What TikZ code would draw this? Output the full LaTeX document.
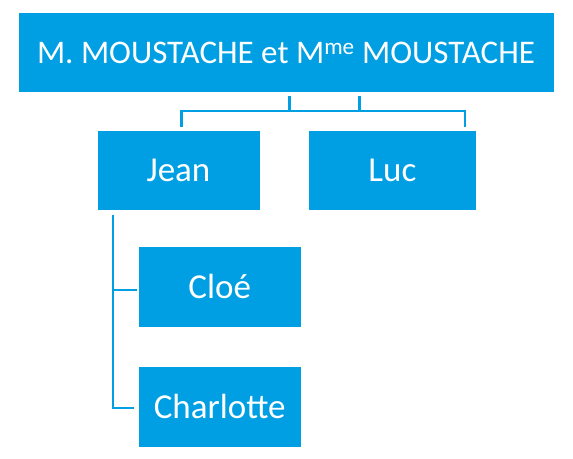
\documentclass[tikz,border=0pt]{standalone}
\usepackage{fontspec}
\setmainfont{Carlito}
\usetikzlibrary{positioning}
\definecolor{moustache}{RGB}{0,159,227}
\tikzset{person/.style={fill=moustache, draw=white, line width=1pt, text=white,
            minimum height=80.6pt, inner sep=0pt, text height=22.5pt, text depth=0pt,
            font=\fontsize{35}{40}\selectfont},
         link/.style={draw=moustache, line width=2.8pt}}

\begin{document}
\begin{tikzpicture}[x=1pt,y=-1pt]
        \useasboundingbox (0,0) rectangle (573,458);

        \node[person, minimum width=536pt, text height=21.2pt, font=\fontsize{33}{38}\selectfont] (couple) at (286,52.5)
            {M. MOUSTACHE et M\textsuperscript{me} MOUSTACHE};
        \node[person, minimum width=163pt] (jean) at (178.5,170.3) {Jean};
        \node[person, minimum width=168pt] (luc) at (392.4,170.3) {Luc};
        \foreach \name/\txt/\y in {cloe/Clo\'e/287, charlotte/Charlotte/407}
        {
            \node[person, minimum width=162.7pt] (\name) at (219.7,\y) {\txt};
        }

        % couple -> sons
        \coordinate (forkA) at (289.5,111);
        \coordinate (forkB) at (359.5,111);
        \draw[link, shorten <=3pt] (couple.south -| forkA) -- (forkA);
        \draw[link, shorten <=3pt] (couple.south -| forkB) -- (forkB);
        \draw[link, shorten <=3pt, shorten >=3pt] ([xshift=3pt]jean.north) |- (forkA) -- (forkB)
            -| ([xshift=72.6pt]luc.north);

        % Jean -> daughters
        \coordinate (trunk) at (113,290);
        \draw[link, shorten <=3.5pt, shorten >=3.5pt] (jean.south -| trunk) |- ([yshift=-1pt]charlotte.west);
        \draw[link, shorten >=1pt] (trunk) -- (trunk -| cloe.west);
    \end{tikzpicture}
\end{document}
